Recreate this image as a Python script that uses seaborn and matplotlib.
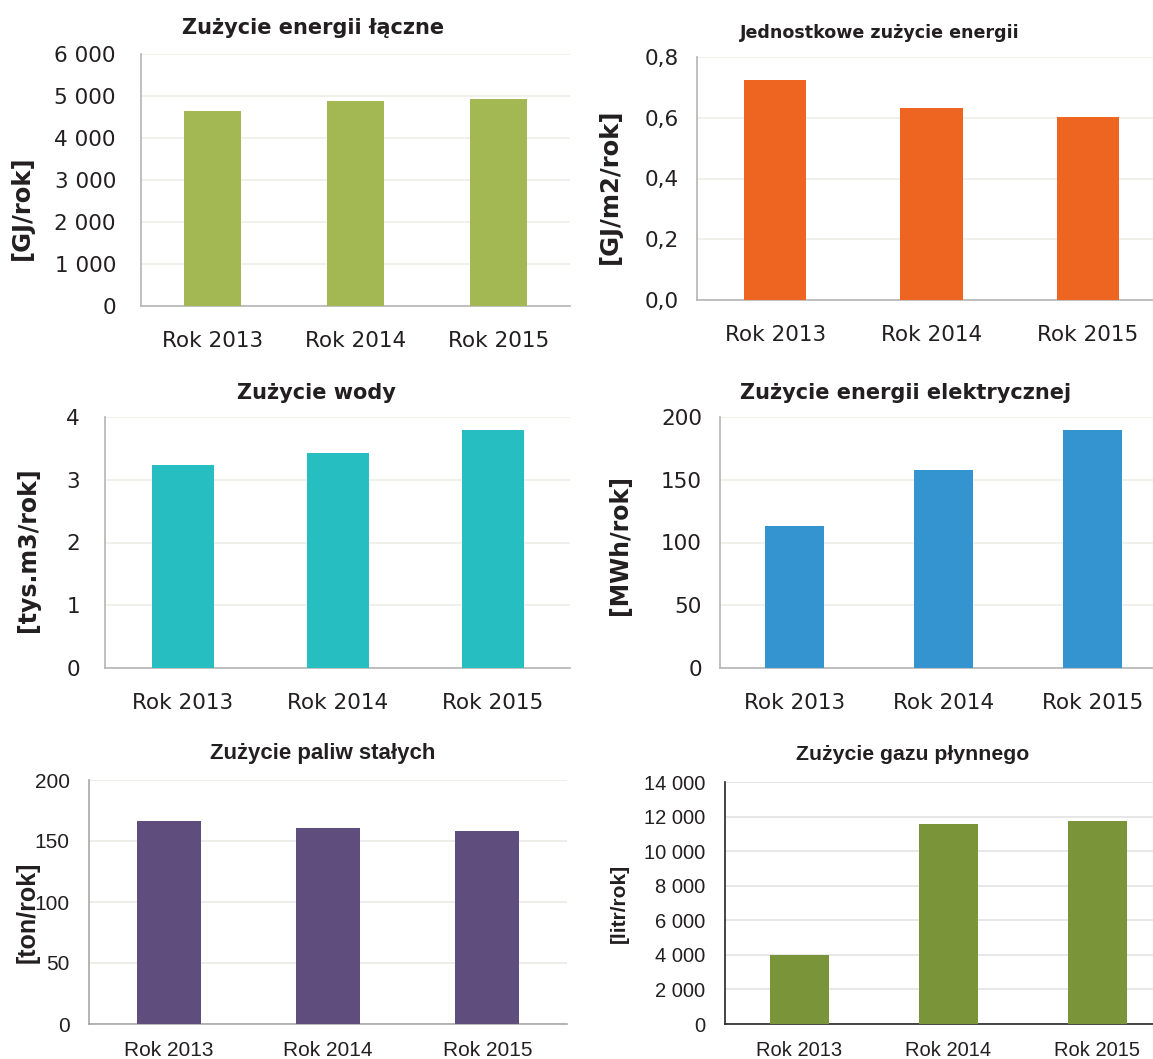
import matplotlib
matplotlib.use("Agg")
import matplotlib.pyplot as plt
import seaborn as sns
import pandas as pd
from matplotlib import font_manager
from matplotlib.ticker import FuncFormatter, FixedLocator

years = ["Rok 2013", "Rok 2014", "Rok 2015"]

energia_laczna = [4650, 4890, 4935]          # GJ/rok
energia_jednostkowa = [0.723, 0.633, 0.601]   # GJ/m2/rok
woda = [3.24, 3.42, 3.80]                     # tys. m3/rok
energia_elektryczna = [113, 158, 190]         # MWh/rok
paliwa_stale = [166, 161, 158]                # ton/rok
gaz_plynny = [3980, 11570, 11760]             # litr/rok

titles = ["Zużycie energii łączne", "Jednostkowe zużycie energii", "Zużycie wody",
          "Zużycie energii elektrycznej", "Zużycie paliw stałych", "Zużycie gazu płynnego"]
ylabels = ["[GJ/rok]", "[GJ/m2/rok]", "[tys.m3/rok]", "[MWh/rok]", "[ton/rok]", "[litr/rok]"]

sns.set_style("white")

# Liberation Sans bold, but not the Narrow cut
bold_arial = None
for f in font_manager.fontManager.ttflist:
    if f.name == "Liberation Sans" and f.weight in (700, "bold") and f.style == "normal" \
            and "narrow" not in f.fname.lower():
        bold_arial = f.fname
        break

W, H = 1153, 1059
fig = plt.figure(figsize=(W / 100, H / 100), dpi=100)


def thousands(v, pos):
    return f"{v:,.0f}".replace(",", " ")


def decimal_comma(v, pos):
    return f"{v:.1f}".replace(".", ",")


def plain(v, pos):
    return f"{v:.0f}"


def bold_props(font, size):
    if font == "Liberation Sans" and bold_arial:
        return font_manager.FontProperties(fname=bold_arial, size=size)
    return font_manager.FontProperties(family=font, weight="bold", size=size)


# pixel layout: left, right, top, bottom of axes; title (x, y); ylabel (x, y)
panels = [
    dict(vals=energia_laczna, color="#A3B752", box=(141, 570, 54, 306), ymax=6000, step=1000, fmt=thousands,
         title_xy=(313, 28), tsize=15, ylab_xy=(22, 208), ysize=17.5, font="DejaVu Sans",
         tick=15.5, ypad=10, xpad=18, grid="#EFEDE6", spine="#B5B5B5"),
    dict(vals=energia_jednostkowa, color="#EE6522", box=(697, 1166, 57, 300), ymax=0.8, step=0.2, fmt=decimal_comma,
         title_xy=(880, 33), tsize=12.6, ylab_xy=(610, 186), ysize=17.5, font="DejaVu Sans",
         tick=15.5, ypad=5, xpad=18, grid="#EFEDE6", spine="#B5B5B5"),
    dict(vals=woda, color="#27BEC1", box=(105, 570, 417, 668), ymax=4, step=1, fmt=plain,
         title_xy=(316, 393), tsize=15, ylab_xy=(28, 550), ysize=17, font="DejaVu Sans",
         tick=15.5, ypad=10, xpad=18, grid="#EFEDE6", spine="#B5B5B5"),
    dict(vals=energia_elektryczna, color="#3394D0", box=(720, 1167, 417, 668), ymax=200, step=50, fmt=plain,
         title_xy=(906, 393), tsize=15, ylab_xy=(620, 545), ysize=17, font="DejaVu Sans",
         tick=15.5, ypad=5, xpad=18, grid="#EFEDE6", spine="#B5B5B5"),
    dict(vals=paliwa_stale, color="#5E4D7D", box=(89, 567, 780, 1024), ymax=200, step=50, fmt=plain,
         title_xy=(323, 753), tsize=16, ylab_xy=(28, 912), ysize=18, font="Liberation Sans",
         tick=15, ypad=6, xpad=12, grid="#ECEAE4", spine="#A8A8A8"),
    dict(vals=gaz_plynny, color="#7A943A", box=(725, 1172, 782, 1024), ymax=14000, step=2000, fmt=thousands,
         title_xy=(913, 755), tsize=15.3, ylab_xy=(619, 903), ysize=15, font="Liberation Sans",
         tick=14.5, ypad=6, xpad=12, grid="#E3E3E3", spine="#262626"),
]

for p, title, ylab in zip(panels, titles, ylabels):
    l, r, t, b = p["box"]
    ax = fig.add_axes([l / W, 1 - b / H, (r - l) / W, (b - t) / H])
    df = pd.DataFrame({"rok": years, "wartosc": p["vals"]})
    sns.barplot(data=df, x="rok", y="wartosc", color=p["color"], width=0.4,
                saturation=1, ax=ax, zorder=3, edgecolor="none")
    ax.set_xlim(-0.5, 2.5)
    ax.set_ylim(0, p["ymax"])
    n = int(round(p["ymax"] / p["step"]))
    ax.yaxis.set_major_locator(FixedLocator([i * p["step"] for i in range(n + 1)]))
    ax.yaxis.set_major_formatter(FuncFormatter(p["fmt"]))
    ax.grid(axis="y", color=p["grid"], linewidth=1.2, zorder=0)
    ax.grid(axis="x", visible=False)
    ax.set_axisbelow(True)

    ax.set_xticks([0, 1, 2])
    ax.set_xticklabels(years, fontsize=p["tick"], family=p["font"], color="#231F20")
    ax.set_xticks([-0.5, 0.5, 1.5, 2.5], minor=True)
    ax.tick_params(axis="x", which="major", length=0, pad=p["xpad"])
    ax.tick_params(axis="x", which="minor", length=8, width=1, color=p["spine"], direction="out")
    ax.tick_params(axis="y", length=8, width=1, color=p["spine"], direction="out", pad=p["ypad"],
                   labelsize=p["tick"], labelcolor="#231F20")
    for lab in ax.get_yticklabels():
        lab.set_family(p["font"])

    for side in ["top", "right"]:
        ax.spines[side].set_visible(False)
    for side in ["left", "bottom"]:
        ax.spines[side].set_visible(True)
        ax.spines[side].set_color(p["spine"])
        ax.spines[side].set_linewidth(1.2)

    ax.set_xlabel("")
    ax.set_ylabel("")
    fig.text(p["title_xy"][0] / W, 1 - p["title_xy"][1] / H, title, ha="center", va="center",
             fontproperties=bold_props(p["font"], p["tsize"]), color="#231F20")
    fig.text(p["ylab_xy"][0] / W, 1 - p["ylab_xy"][1] / H, ylab, ha="center", va="center",
             rotation=90, fontproperties=bold_props(p["font"], p["ysize"]), color="#231F20")

fig.savefig("out.png", dpi=100, facecolor="white")
